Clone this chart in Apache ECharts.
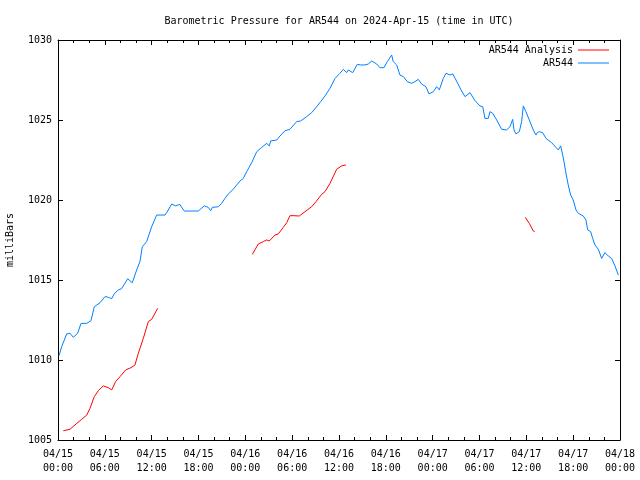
<!DOCTYPE html>
<html>
<head>
<meta charset="utf-8">
<script src="https://cdn.jsdelivr.net/npm/echarts@6/dist/echarts.min.js"></script>
<style>html,body{margin:0;padding:0;background:#fff;}#c{width:640px;height:480px;}</style>
</head>
<body>
<div id="c"></div>
<script>
// hours since 2024-04-15 00:00 UTC
const blueHours = [0.13,0.47,1.11,1.54,1.96,2.52,2.95,3.68,3.80,4.23,4.65,5.38,6.02,6.44,6.88,7.21,7.72,8.16,8.93,9.52,9.77,10.08,10.50,10.80,11.36,12.00,12.64,13.71,13.93,14.57,15.08,15.59,16.18,17.97,18.74,19.25,19.56,19.77,20.54,20.97,21.39,21.82,22.38,23.32,23.74,24.17,24.81,25.46,26.10,26.74,27.07,27.25,28.02,28.44,29.08,29.72,30.58,31.09,31.86,32.50,33.14,33.65,34.20,34.85,35.49,36.13,36.55,36.98,37.19,37.41,37.75,38.34,38.78,39.33,39.75,40.19,40.83,41.25,41.76,42.19,42.75,42.95,43.39,43.81,44.24,44.75,45.31,45.73,46.16,46.59,47.14,47.53,48.08,48.51,48.85,49.36,49.71,50.22,50.56,50.99,51.59,52.14,52.78,53.42,54.06,54.41,54.70,55.13,55.34,55.69,56.20,56.84,57.48,57.90,58.25,58.42,58.67,59.10,59.40,59.61,59.95,60.38,60.89,61.24,61.40,61.66,62.09,62.52,63.25,64.09,64.40,64.66,64.82,65.04,65.37,65.68,66.01,66.36,66.65,66.87,67.30,67.64,67.86,68.24,68.50,68.79,69.22,69.65,70.07,70.50,70.93,71.36,71.78];
const blueValues = [1010.27,1010.83,1011.63,1011.67,1011.42,1011.67,1012.29,1012.29,1012.17,1012.46,1013.33,1013.58,1013.96,1013.92,1013.83,1014.13,1014.38,1014.46,1015.08,1014.83,1014.83,1015.63,1016.15,1017.08,1017.40,1018.33,1019.06,1019.06,1019.21,1019.75,1019.63,1019.73,1019.31,1019.31,1019.63,1019.54,1019.33,1019.54,1019.58,1019.79,1020.10,1020.38,1020.63,1021.19,1021.35,1021.77,1022.33,1023.02,1023.29,1023.54,1023.38,1023.69,1023.75,1024.00,1024.33,1024.42,1024.90,1024.94,1025.21,1025.46,1025.83,1026.15,1026.50,1026.98,1027.60,1027.92,1028.17,1027.96,1028.13,1028.17,1027.96,1028.48,1028.44,1028.44,1028.50,1028.69,1028.50,1028.27,1028.27,1028.65,1029.06,1028.65,1028.44,1027.81,1027.71,1027.40,1027.29,1027.40,1027.54,1027.25,1027.08,1026.63,1026.77,1027.08,1026.88,1027.60,1027.92,1027.81,1027.88,1027.50,1026.92,1026.46,1026.71,1026.21,1025.88,1025.83,1025.10,1025.10,1025.52,1025.42,1025.00,1024.42,1024.38,1024.58,1025.04,1024.38,1024.13,1024.27,1024.90,1025.88,1025.52,1025.00,1024.38,1024.06,1024.21,1024.27,1024.21,1023.85,1023.58,1023.13,1023.38,1022.81,1022.40,1021.77,1020.94,1020.31,1020.00,1019.38,1019.17,1019.27,1019.00,1018.75,1018.13,1018.02,1017.60,1017.19,1016.92,1016.35,1016.71,1016.50,1016.35,1015.88,1015.31];

const red1Hours = [0.68,1.54,2.40,3.04,3.68,4.10,4.65,5.16,5.80,6.44,6.88,7.39,7.94,8.67,9.35,9.86,10.29,10.93,11.57,12.00,12.77];
const red1Values = [1005.58,1005.67,1006.04,1006.29,1006.56,1006.98,1007.71,1008.08,1008.38,1008.27,1008.13,1008.65,1008.96,1009.38,1009.52,1009.69,1010.42,1011.35,1012.40,1012.54,1013.23];
const red2Hours = [24.89,25.66,26.30,26.74,27.07,27.80,28.22,28.86,29.30,29.72,30.23,30.91,31.64,32.50,33.05,33.78,34.20,34.85,35.70,36.34,36.89];
const red2Values = [1016.60,1017.25,1017.40,1017.50,1017.44,1017.81,1017.88,1018.29,1018.58,1019.02,1019.02,1019.00,1019.27,1019.58,1019.90,1020.35,1020.52,1021.04,1021.92,1022.13,1022.19];
const red3Hours = [59.86,60.38,60.89,61.07];
const red3Values = [1018.92,1018.54,1018.06,1018.04];

const xTickLabels = ['04/15\n00:00','04/15\n06:00','04/15\n12:00','04/15\n18:00','04/16\n00:00','04/16\n06:00','04/16\n12:00','04/16\n18:00','04/17\n00:00','04/17\n06:00','04/17\n12:00','04/17\n18:00','04/18\n00:00'];
const yTickLabels = ['1005','1010','1015','1020','1025','1030'];

const FONT = 'DejaVu Sans Mono';
const zip = (a, b) => a.map((v, i) => [v, b[i]]);

const chart = echarts.init(document.getElementById('c'), null, {renderer: 'canvas'});
const axisLine = {show: true, onZero: false, lineStyle: {color: '#000', width: 1}};
const baseX = {
  type: 'value', min: 0, max: 72, interval: 6,
  axisLine: axisLine,
  axisTick: {show: true, inside: true, length: 5, lineStyle: {color: '#000'}},
  minorTick: {show: true, splitNumber: 3, length: 3, lineStyle: {color: '#000'}},
  splitLine: {show: false}
};
const baseY = {
  type: 'value', min: 1005, max: 1030, interval: 5,
  axisLine: axisLine,
  axisTick: {show: true, inside: true, length: 5, lineStyle: {color: '#000'}},
  splitLine: {show: false}
};
const lineSeries = (name, color, h, v) => ({
  name: name, type: 'line', data: zip(h, v), showSymbol: false, symbol: 'none',
  lineStyle: {color: color, width: 1}, itemStyle: {color: color}, silent: true
});

chart.setOption({
  animation: false,
  backgroundColor: '#fff',
  title: {
    text: 'Barometric Pressure for AR544 on 2024-Apr-15 (time in UTC)',
    left: 339, top: 16, textAlign: 'center', padding: 0,
    textStyle: {fontFamily: FONT, fontSize: 10, fontWeight: 'normal', color: '#000'}
  },
  legend: {
    orient: 'vertical', right: 31, top: 44, align: 'right', padding: 0,
    itemWidth: 31, itemHeight: 1, itemGap: 1, icon: 'rect',
    data: ['AR544 Analysis', 'AR544'],
    textStyle: {fontFamily: FONT, fontSize: 10, color: '#000', lineHeight: 12}
  },
  grid: {left: 58, right: 20, top: 40, bottom: 40, containLabel: false, outerBoundsMode: 'none'},
  xAxis: [
    Object.assign({}, baseX, {
      position: 'bottom',
      axisLabel: {
        show: true, margin: 7, lineHeight: 14,
        fontFamily: FONT, fontSize: 10, color: '#000',
        formatter: v => xTickLabels[Math.round(v / 6)]
      }
    }),
    Object.assign({}, baseX, {position: 'top', axisLabel: {show: false}})
  ],
  yAxis: [
    Object.assign({}, baseY, {
      position: 'left',
      name: 'milliBars', nameLocation: 'middle', nameRotate: 90, nameGap: 43,
      nameTextStyle: {fontFamily: FONT, fontSize: 10, color: '#000'},
      axisLabel: {
        show: true, margin: 6, fontFamily: FONT, fontSize: 10, color: '#000',
        formatter: v => yTickLabels[Math.round((v - 1005) / 5)]
      }
    }),
    Object.assign({}, baseY, {position: 'right', axisLabel: {show: false}})
  ],
  series: [
    lineSeries('AR544 Analysis', '#ff0000', red1Hours, red1Values),
    lineSeries('AR544 Analysis', '#ff0000', red2Hours, red2Values),
    lineSeries('AR544 Analysis', '#ff0000', red3Hours, red3Values),
    lineSeries('AR544', '#0080ff', blueHours, blueValues)
  ]
});
</script>
</body>
</html>
